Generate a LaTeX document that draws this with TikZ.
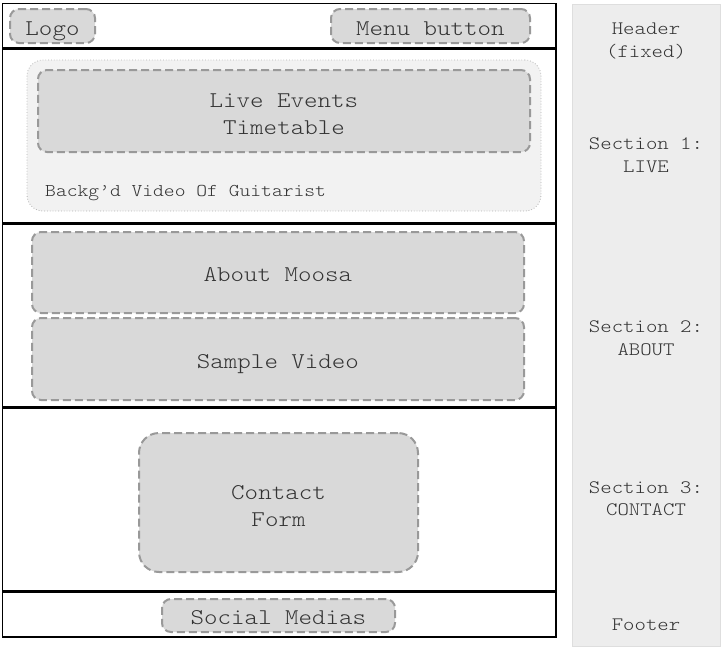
\documentclass[tikz,border=0pt]{standalone}
\usepackage{fontspec}
\setmainfont[FakeStretch=1.143]{Latin Modern Mono Light}
\begin{document}
\begin{tikzpicture}[x=1pt,y=-1pt,
  box/.style={draw=black!40, fill=black!15, line width=2pt, dash pattern=on 8pt off 4pt,
    rounded corners=9pt, inner sep=0pt},
  txt/.style={text=black!80, font=\fontsize{22.5}{27}\selectfont, align=center, inner sep=0pt},
  one/.style={txt, text height=0.75em, text depth=0.25em},
  bgbox/.style={draw=black!30, fill=black!5, line width=0.8pt, dotted, rounded corners=16pt},
  side/.style={text=black!80, font=\fontsize{19}{22.5}\selectfont, align=center},
  sep/.style={line width=3pt, black},
]
\useasboundingbox (0,0) rectangle (723,649);
% side panel
\fill[black!7] (572,4) rectangle (720,646);
\draw[black!13, line width=1pt] (572,4) rectangle (720,646);
% frame
\draw[line width=1pt] (2,637) -- (2,3) -- (556,3);
\draw[line width=2.2pt] (556,3) -- (556,637) -- (2,637);
\draw[sep] (2,48) -- (556,48);
\draw[sep] (2,223) -- (556,223);
\draw[sep] (2,407) -- (556,407);
\draw[sep] (2,591) -- (556,591);
% header
\node[box, minimum width=85pt, minimum height=34pt] (logo) at (52.5,26) {};
\node[one] (logot) at (52.5,32.5) {Logo};
\node[box, minimum width=199pt, minimum height=34pt] (menu) at (430.5,26) {};
\node[one] (menut) at (430.5,32.5) {Menu button};
% live
\node[bgbox, minimum width=514pt, minimum height=151pt] (bg) at (284,135.5) {};
\node[box, minimum width=492pt, minimum height=82pt] (live) at (284,111) {};
\node[txt] (livet) at (284,114) {Live Events\\Timetable};
\node[anchor=west, text=black!80, font=\fontsize{18}{21}\selectfont, inner sep=0pt,
  text height=0.75em, text depth=0.25em] (bgtext) at (45,194) {Backg'd Video Of Guitarist};
% about
\node[box, minimum width=492pt, minimum height=81pt] (about) at (278,272.5) {};
\node[one] (aboutt) at (278,278.5) {About Moosa};
\node[box, minimum width=492pt, minimum height=82pt] (video) at (278,359) {};
\node[one] (videot) at (278,365.5) {Sample Video};
% contact
\node[box, rounded corners=20pt, minimum width=279pt, minimum height=139pt] (contact) at (278.5,502.5) {};
\node[txt] (contactt) at (278.5,506.5) {Contact\\Form};
% footer
\node[box, minimum width=233pt, minimum height=33pt] (social) at (278.5,615.5) {};
\node[one] (socialt) at (278.5,621.5) {Social Medias};
% side labels
\node[side] (lh) at (646,41) {Header\\(fixed)};
\node[side] (l1) at (646,155) {Section 1:\\LIVE};
\node[side] (l2) at (646,338) {Section 2:\\ABOUT};
\node[side] (l3) at (646,498.5) {Section 3:\\CONTACT};
\node[side] (lf) at (646,625) {Footer};
\end{tikzpicture}
\end{document}
